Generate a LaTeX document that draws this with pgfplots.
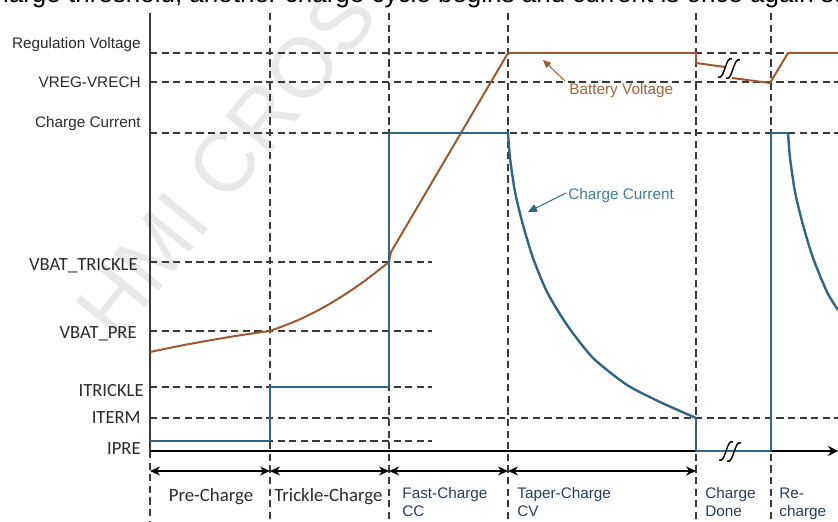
\documentclass[border=0pt]{standalone}
\usepackage{pgfplots}
\pgfplotsset{compat=1.18}
\usepackage{fontspec}
\setmainfont{Liberation Sans}
\newfontfamily\calfont{Carlito}
\usetikzlibrary{arrows.meta}
\definecolor{vbat}{HTML}{9C5A33}
\definecolor{ichg}{HTML}{2F6782}
\definecolor{gcol}{HTML}{3A3A3A}
\definecolor{lbl}{HTML}{2A2A2A}
\definecolor{phase}{HTML}{2A3B58}
\definecolor{vtxt}{HTML}{A0623C}
\definecolor{itxt}{HTML}{44799A}
\begin{document}
\begin{tikzpicture}
\begin{axis}[
  width=419pt, height=261pt, scale only axis,
  xmin=0, xmax=838, ymin=0, ymax=522, y dir=reverse,
  hide axis, clip=false,
  every axis plot/.append style={no markers},
  guide/.style={gcol, line width=0.65pt, dash pattern=on 3.6pt off 2.2pt},
]
\coordinate (BL) at (axis cs:0,522);
\coordinate (TR) at (axis cs:838,0);
% watermark
\node[rotate=51, text=black!9, font=\fontsize{42}{42}\selectfont, anchor=center] at (axis cs:226,162) {HMI CROS};
% cropped text at top
\node[anchor=base west, font=\fontsize{13}{14}\selectfont, text=black, inner sep=0pt] at (axis cs:-19,3) {charge threshold, another charge cycle begins and current is once again supplied};
% horizontal guides
\addplot[guide] coordinates {(150,53) (838,53)};
\addplot[guide] coordinates {(150,82) (838,82)};
\addplot[guide] coordinates {(150,133) (838,133)};
\addplot[guide] coordinates {(150,262) (432,262)};
\addplot[guide] coordinates {(150,331) (432,331)};
\addplot[guide] coordinates {(150,387) (432,387)};
\addplot[guide] coordinates {(150,418) (838,418)};
\addplot[guide] coordinates {(150,441) (432,441)};
% vertical guides
\addplot[guide] coordinates {(270,13) (270,522)};
\addplot[guide] coordinates {(389,13) (389,522)};
\addplot[guide] coordinates {(508,13) (508,522)};
\addplot[guide] coordinates {(696,13) (696,522)};
\addplot[guide] coordinates {(771,13) (771,522)};
\addplot[guide] coordinates {(150,451) (150,522)};
% left axis and time axis
\addplot[gcol, line width=0.7pt] coordinates {(150,13) (150,451)};
\addplot[black, line width=0.6pt] coordinates {(150,451) (771,451)};
\addplot[black, line width=1.1pt, -{Stealth[length=5pt,width=5pt]}] coordinates {(771,451) (838,451)};
% phase arrows
\addplot[black, line width=0.65pt, {Stealth[length=5pt,width=4.5pt]}-{Stealth[length=5pt,width=4.5pt]}] coordinates {(150,471) (270,471)};
\addplot[black, line width=0.65pt, {Stealth[length=5pt,width=4.5pt]}-{Stealth[length=5pt,width=4.5pt]}] coordinates {(270,471) (389,471)};
\addplot[black, line width=0.65pt, {Stealth[length=5pt,width=4.5pt]}-{Stealth[length=5pt,width=4.5pt]}] coordinates {(389,471) (508,471)};
\addplot[black, line width=0.65pt, {Stealth[length=5pt,width=4.5pt]}-{Stealth[length=5pt,width=4.5pt]}] coordinates {(508,471) (696,471)};
% battery voltage
\addplot[vbat, line width=1pt, smooth, tension=0.5] coordinates {
 (150,352) (180,345.8) (210,340.3) (240,335.3) (270,331)};
\addplot[vbat, line width=1pt, smooth, tension=0.5] coordinates {
 (270,331) (300,319.3) (330,303.7) (360,284.3) (389,262)};
\addplot[vbat, line width=1pt, line join=round] coordinates {
 (389,262) (391,252) (508,53) (696,53) (696,63) (725,67)};
\addplot[vbat, line width=1pt, line join=round] coordinates {
 (732,78) (770,83) (788,53) (838,53)};
% charge current
\addplot[ichg, line width=1.2pt, line join=round] coordinates {
 (150,441) (270,441) (270,387) (389,387) (389,133) (508,133)};
\addplot[ichg, line width=1.2pt, smooth, tension=0.4] coordinates {
 (508,133) (510,158) (515,192) (523,225) (533,258) (547,292) (567,325)
 (593,358) (627,385) (660,402) (696,418)};
\addplot[ichg, line width=1.2pt, line join=round] coordinates {
 (696,418) (696,451) (771,451) (771,133) (788,133)};
\addplot[ichg, line width=1.2pt, smooth, tension=0.4] coordinates {
 (788,133) (790,158) (795,192) (803,225) (813,258) (827,292) (838,310)};
% break symbols
\draw[black, line width=0.7pt] (axis cs:718,77) .. controls (axis cs:721,79) and (axis cs:723,74) .. (axis cs:725,68) .. controls (axis cs:727,62) and (axis cs:729,57) .. (axis cs:732,59);
\draw[black, line width=0.7pt] (axis cs:726,78) .. controls (axis cs:729,80) and (axis cs:731,75) .. (axis cs:733,69) .. controls (axis cs:735,63) and (axis cs:737,58) .. (axis cs:740,60);
\draw[black, line width=0.7pt] (axis cs:719,460) .. controls (axis cs:722,462) and (axis cs:724,457) .. (axis cs:726,451) .. controls (axis cs:728,445) and (axis cs:730,440) .. (axis cs:733,442);
\draw[black, line width=0.7pt] (axis cs:727,461) .. controls (axis cs:730,463) and (axis cs:732,458) .. (axis cs:734,452) .. controls (axis cs:736,446) and (axis cs:738,441) .. (axis cs:741,443);
% left labels (Arial-like)
\node[anchor=base east, inner sep=0pt, text=lbl, font=\fontsize{7.65}{9}\selectfont] at (axis cs:141,49) {Regulation Voltage};
\node[anchor=base east, inner sep=0pt, text=lbl, font=\fontsize{7.65}{9}\selectfont] at (axis cs:141,88) {VREG-VRECH};
\node[anchor=base east, inner sep=0pt, text=lbl, font=\fontsize{7.65}{9}\selectfont] at (axis cs:141,128) {Charge Current};
% left labels (Calibri-like)
\node[anchor=base east, inner sep=0pt, text=lbl, font=\calfont\fontsize{9.3}{11}\selectfont] at (axis cs:138,270.5) {VBAT\_TRICKLE};
\node[anchor=base east, inner sep=0pt, text=lbl, font=\calfont\fontsize{9.3}{11}\selectfont] at (axis cs:137,339) {VBAT\_PRE};
\node[anchor=base east, inner sep=0pt, text=lbl, font=\calfont\fontsize{9.3}{11}\selectfont] at (axis cs:144,396.5) {ITRICKLE};
\node[anchor=base east, inner sep=0pt, text=lbl, font=\calfont\fontsize{9.3}{11}\selectfont] at (axis cs:141,423) {ITERM};
\node[anchor=base east, inner sep=0pt, text=lbl, font=\calfont\fontsize{9.3}{11}\selectfont] at (axis cs:141,454) {IPRE};
% phase labels
\node[anchor=base, inner sep=0pt, text=lbl, font=\calfont\fontsize{9.4}{11}\selectfont] at (axis cs:211,501) {Pre-Charge};
\node[anchor=base west, inner sep=0pt, text=lbl, font=\calfont\fontsize{9.4}{11}\selectfont] at (axis cs:274,501) {Trickle-Charge};
\node[anchor=base west, inner sep=0pt, text=phase, font=\fontsize{7.65}{9}\selectfont] at (axis cs:402,498) {Fast-Charge};
\node[anchor=base west, inner sep=0pt, text=phase, font=\fontsize{7.65}{9}\selectfont] at (axis cs:402,516) {CC};
\node[anchor=base west, inner sep=0pt, text=phase, font=\fontsize{7.65}{9}\selectfont] at (axis cs:517,498) {Taper-Charge};
\node[anchor=base west, inner sep=0pt, text=phase, font=\fontsize{7.65}{9}\selectfont] at (axis cs:517,516) {CV};
\node[anchor=base west, inner sep=0pt, text=phase, font=\fontsize{7.65}{9}\selectfont] at (axis cs:705,498) {Charge};
\node[anchor=base west, inner sep=0pt, text=phase, font=\fontsize{7.65}{9}\selectfont] at (axis cs:705,516) {Done};
\node[anchor=base west, inner sep=0pt, text=phase, font=\fontsize{7.65}{9}\selectfont] at (axis cs:779,498) {Re-};
\node[anchor=base west, inner sep=0pt, text=phase, font=\fontsize{7.65}{9}\selectfont] at (axis cs:779,516) {charge};
% annotations
\draw[vbat, line width=0.5pt, -{Triangle[length=4pt,width=3.5pt]}] (axis cs:565,81) -- (axis cs:543,60);
\node[anchor=base west, inner sep=0pt, text=vtxt, font=\fontsize{7.65}{9}\selectfont] at (axis cs:569,95) {Battery Voltage};
\draw[ichg, line width=0.5pt, -{Triangle[length=4.5pt,width=4pt]}] (axis cs:566,193) -- (axis cs:528,212);
\node[anchor=base west, inner sep=0pt, text=itxt, font=\fontsize{7.65}{9}\selectfont] at (axis cs:568,199.5) {Charge Current};
\end{axis}
\pgfresetboundingbox
\useasboundingbox (BL) rectangle (TR);
\end{tikzpicture}
\end{document}
